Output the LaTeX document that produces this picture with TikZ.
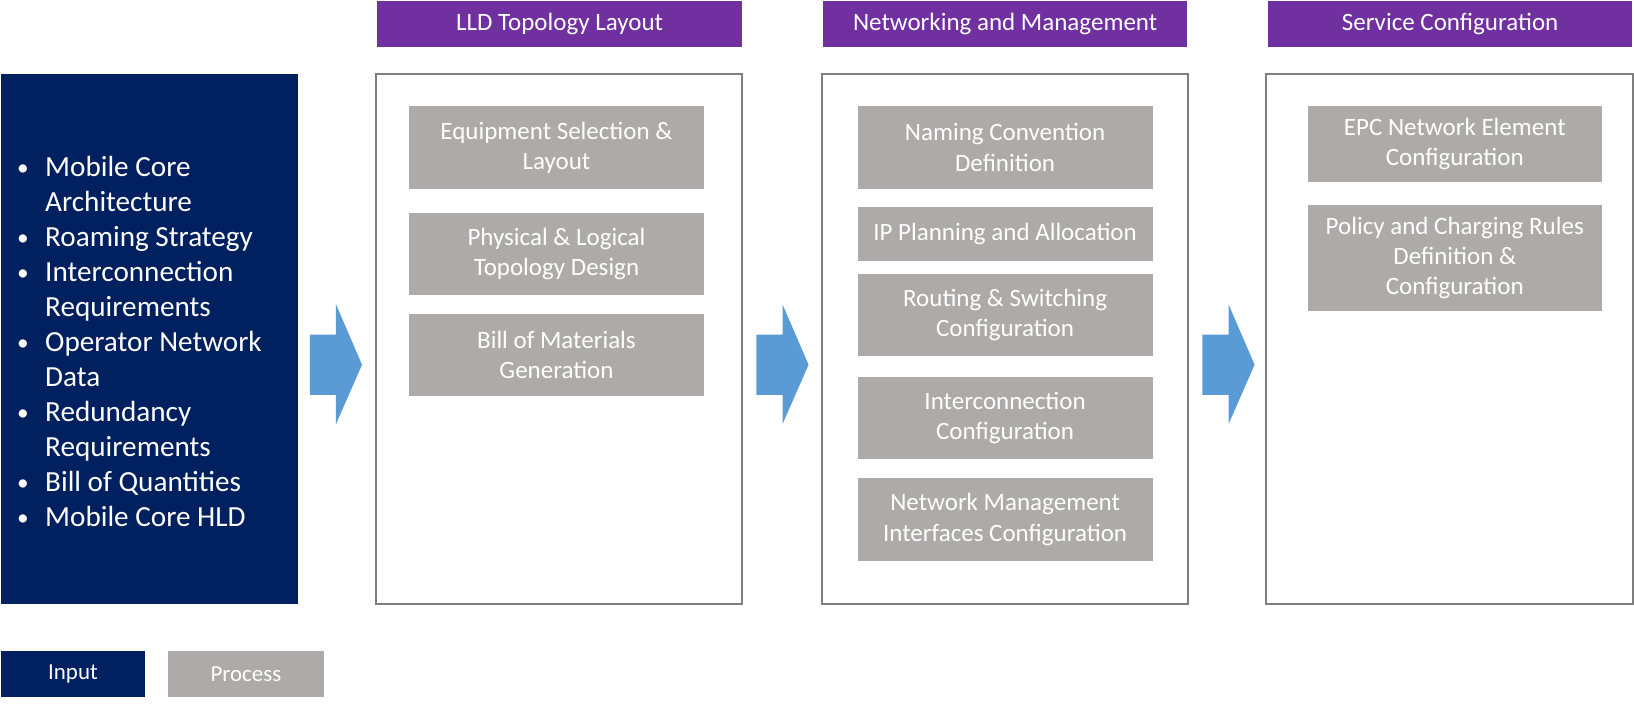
\documentclass[tikz,border=0pt]{standalone}
\usepackage{fontspec}
\setmainfont{Carlito}
\usetikzlibrary{calc}
\definecolor{navy}{HTML}{002060}
\definecolor{hdr}{HTML}{7030A0}
\definecolor{proc}{HTML}{AEAAAA}
\definecolor{arr}{HTML}{5B9BD5}
\definecolor{frame}{HTML}{7F7F7F}
\tikzset{
  inbox/.style={fill=navy, draw=none, inner sep=0},
  hdrbox/.style={fill=hdr, draw=none, text=white, minimum width=175pt, minimum height=22pt, inner sep=0, font=\fontsize{12}{14}\selectfont},
  panel/.style={draw=frame, line width=0.9pt, fill=white, minimum height=254.5pt, inner sep=0},
  procbox/.style={fill=proc, draw=none, text=white, align=center, inner sep=0, font=\fontsize{12}{14.5}\selectfont},
  flowarrow/.style={fill=arr, draw=none},
  legbox/.style={draw=none, text=white, minimum height=22pt, inner sep=0, font=\fontsize{11}{12}\selectfont}
}
\newcommand{\blt}{\makebox[14.5pt][l]{\hspace{1pt}\raisebox{0.6pt}{\scalebox{0.8}{\textbullet}}}}
\newcommand{\ind}{\hspace*{14.5pt}}
\newcommand{\flowarr}[1]{%
  \fill[flowarrow] ($(#1)+(0,-29)$) -- ++(25,0) -- ++(0,-29) -- ($(#1)+(50,0)$) -- ($(#1)+(25,57)$) -- ++(0,-28) -- ++(-25,0) -- cycle;}
\begin{document}
\begin{tikzpicture}[x=0.5pt,y=-0.5pt]
\useasboundingbox (0,0) rectangle (1568,676);
% input
\node[inbox, minimum width=142.5pt, minimum height=254.5pt] (inp) at (143.5,325.5) {};
\node[anchor=west, text=white, align=left, inner sep=0, font=\fontsize{14}{16.8}\selectfont] (inlist) at (14,328) {%
\blt Mobile Core\\
\ind Architecture\\
\blt Roaming Strategy\\
\blt Interconnection\\
\ind Requirements\\
\blt Operator Network\\
\ind Data\\
\blt Redundancy\\
\ind Requirements\\
\blt Bill of Quantities\\
\blt Mobile Core HLD};
% headers
\node[hdrbox] (h1) at (537,23) {LLD Topology Layout};
\node[hdrbox] (h2) at (964.5,23) {Networking and Management};
\node[hdrbox] (h3) at (1391.5,23) {Service Configuration};
% panels
\node[panel, minimum width=175.5pt] (p1) at (536.5,325.5) {};
\node[panel, minimum width=175.5pt] (p2) at (964.5,325.5) {};
\node[panel, minimum width=176pt] (p3) at (1391,325.5) {};
% panel 1 boxes
\node[procbox, minimum width=142pt, minimum height=39.5pt] (a1) at (534,141.5) {Equipment Selection \&\\Layout};
\node[procbox, minimum width=142pt, minimum height=39.5pt] (a2) at (534,243.5) {Physical \& Logical\\Topology Design};
\node[procbox, minimum width=142pt, minimum height=39.5pt] (a3) at (534,340.5) {Bill of Materials\\Generation};
% panel 2 boxes
\node[procbox, minimum width=141.5pt, minimum height=39.5pt] (b1) at (964.5,141.5) {Naming Convention\\Definition};
\node[procbox, minimum width=141.5pt, minimum height=25.5pt] (b2) at (964.5,224.5) {IP Planning and Allocation};
\node[procbox, minimum width=141.5pt, minimum height=39.5pt] (b3) at (964.5,302.5) {Routing \& Switching\\Configuration};
\node[procbox, minimum width=141.5pt, minimum height=39pt] (b4) at (964.5,401) {Interconnection\\Configuration};
\node[procbox, minimum width=141.5pt, minimum height=39.5pt] (b5) at (964.5,498.5) {Network Management\\Interfaces Configuration};
% panel 3 boxes
\node[procbox, minimum width=141pt, minimum height=36.5pt] (c1) at (1396,138.5) {EPC Network Element\\Configuration};
\node[procbox, minimum width=141pt, minimum height=50.5pt] (c2) at (1396,247.5) {Policy and Charging Rules\\Definition \&\\Configuration};
% arrows
\coordinate (s1) at ($(inp.east |- 0,350)+(11,0)$);
\coordinate (s2) at ($(p1.east |- 0,350)+(13,0)$);
\coordinate (s3) at ($(p2.east |- 0,350)+(13,0)$);
\flowarr{s1}
\flowarr{s2}
\flowarr{s3}
% legend
\node[legbox, fill=navy, minimum width=69pt] (lin) at (70,647) {Input};
\node[legbox, fill=proc, minimum width=75pt] (lpr) at (236,647) {Process};
\end{tikzpicture}
\end{document}
